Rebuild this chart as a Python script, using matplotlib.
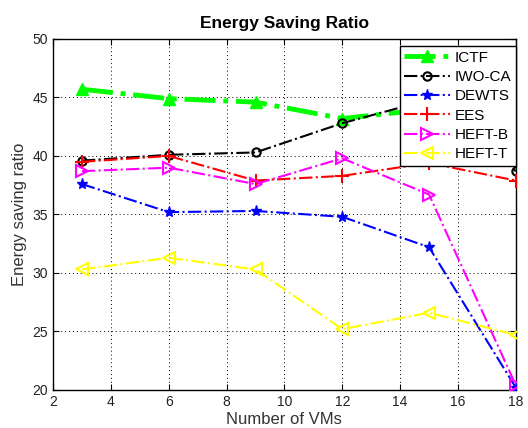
import matplotlib
matplotlib.use('Agg')
import matplotlib.pyplot as plt

plt.rcParams['font.family'] = ['Liberation Sans', 'DejaVu Sans']

vms = [3, 6, 9, 12, 15, 18]
ictf = [45.7, 44.9, 44.6, 43.2, 44.0, 40.3]
iwo_ca = [39.6, 40.1, 40.3, 42.8, 44.8, 38.7]
dewts = [37.6, 35.2, 35.3, 34.8, 32.2, 20.2]
ees = [39.5, 40.0, 37.9, 38.3, 39.4, 37.9]
heft_b = [38.7, 39.0, 37.6, 39.8, 36.7, 20.4]
heft_t = [30.3, 31.3, 30.3, 25.2, 26.6, 24.7]

fig = plt.figure(figsize=(5.28, 4.28), dpi=100)
ax = fig.add_axes([0.1004, 0.0888, 0.8766, 0.8202])

ax.plot(vms, ictf, '-.', color='#00ff00', marker='^', markersize=9, lw=3.5,
        mfc='#00ff00', mec='#00ff00', label='ICTF', zorder=3)
ax.plot(vms, iwo_ca, '-.', color='black', marker='o', markersize=6, lw=1.5,
        mfc='none', mec='black', mew=1.5, label='IWO-CA', zorder=4)
ax.plot(vms, dewts, '-.', color='blue', marker='*', markersize=8, lw=1.5,
        mfc='blue', mec='blue', label='DEWTS', zorder=4)
ax.plot(vms, ees, '-.', color='red', marker='+', markersize=10, lw=1.5,
        mew=1.5, label='EES', zorder=4)
ax.plot(vms, heft_b, '-.', color='magenta', marker='>', markersize=9, lw=1.5,
        mfc='none', mec='magenta', mew=1.5, label='HEFT-B', zorder=4)
ax.plot(vms, heft_t, '-.', color='yellow', marker='<', markersize=9, lw=1.5,
        mfc='none', mec='yellow', mew=1.5, label='HEFT-T', zorder=4)

ax.set_xlim(2, 18)
ax.set_ylim(20, 50)
ax.set_xticks(range(2, 19, 2))
ax.set_yticks(range(20, 51, 5))
ax.grid(True, color='black', linestyle=(0, (1, 3)), linewidth=0.7)
ax.tick_params(direction='in', labelsize=10, top=True, right=True, length=4,
               labelcolor='#222222')
for s in ax.spines.values():
    s.set_linewidth(1.0)

ax.set_xlabel('Number of VMs', fontsize=12, color='#333333', labelpad=2)
ax.set_ylabel('Energy saving ratio', fontsize=12, color='#333333', labelpad=4)
ax.set_title('Energy Saving Ratio', fontsize=12.5, fontweight='bold', pad=8)

leg = ax.legend(loc='upper right', bbox_to_anchor=(1.0, 0.98), fontsize=11,
                fancybox=False, framealpha=1, edgecolor='black',
                handlelength=3.0, borderpad=0.3, labelspacing=0.35,
                handletextpad=0.3, borderaxespad=0)
leg.get_frame().set_linewidth(1.0)

fig.savefig('out.png', dpi=100)
